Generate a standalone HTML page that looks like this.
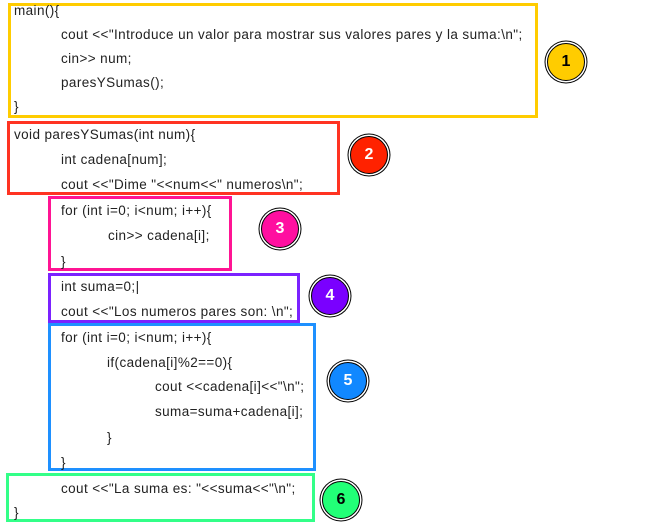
<!DOCTYPE html>
<html><head><meta charset="utf-8"><style>
body{margin:0;width:668px;height:527px;background:#fff;position:relative;overflow:hidden;font-family:"Liberation Sans",sans-serif;font-size:13.5px;color:#222}
.t{position:absolute;white-space:pre;line-height:14px;letter-spacing:0.4px;margin-top:1px}
.b{position:absolute;box-sizing:border-box;border:3px solid}
.c{position:absolute;width:38px;height:38px;border-radius:50%;box-sizing:border-box;border:1.5px solid #000;box-shadow:0 0 0 1.5px #fff,0 0 0 2.5px #000;font-weight:bold;font-size:16px;text-align:center;line-height:35px}
</style></head><body>
<div class="b" style="left:8px;top:3px;width:530px;height:115px;border-color:#ffcc00"></div>
<div class="b" style="left:7px;top:121px;width:333px;height:74px;border-color:#ff3322"></div>
<div class="b" style="left:48px;top:196px;width:184px;height:75px;border-color:#ff1493"></div>
<div class="b" style="left:48px;top:273px;width:252px;height:50px;border-color:#7b22ff"></div>
<div class="b" style="left:48px;top:323px;width:268px;height:148px;border-color:#1e90ff"></div>
<div class="b" style="left:6px;top:473px;width:309px;height:49px;border-color:#33ff88"></div>

<div class="c" style="left:547px;top:43px;background:#ffcc00;color:#000">1</div>
<div class="c" style="left:350px;top:136px;background:#ff2200;color:#fff">2</div>
<div class="c" style="left:261px;top:210px;background:#ff0fa0;color:#fff">3</div>
<div class="c" style="left:311px;top:277px;background:#7a00ff;color:#fff">4</div>
<div class="c" style="left:329px;top:362px;background:#1188ff;color:#fff">5</div>
<div class="c" style="left:322px;top:481px;background:#22ff77;color:#000">6</div>

<div class="t" style="left:14px;top:3px">main(){</div>
<div class="t" style="left:61px;top:27px">cout &lt;&lt;"Introduce un valor para mostrar sus valores pares y la suma:\n";</div>
<div class="t" style="left:61px;top:51px">cin&gt;&gt; num;</div>
<div class="t" style="left:61px;top:75px">paresYSumas();</div>
<div class="t" style="left:14px;top:99px">}</div>
<div class="t" style="left:14px;top:127px">void paresYSumas(int num){</div>
<div class="t" style="left:61px;top:152px">int cadena[num];</div>
<div class="t" style="left:61px;top:177px">cout &lt;&lt;"Dime "&lt;&lt;num&lt;&lt;" numeros\n";</div>
<div class="t" style="left:61px;top:203px">for (int i=0; i&lt;num; i++){</div>
<div class="t" style="left:108px;top:228px">cin&gt;&gt; cadena[i];</div>
<div class="t" style="left:61px;top:254px">}</div>
<div class="t" style="left:61px;top:279px">int suma=0;|</div>
<div class="t" style="left:61px;top:304px">cout &lt;&lt;"Los numeros pares son: \n";</div>
<div class="t" style="left:61px;top:330px">for (int i=0; i&lt;num; i++){</div>
<div class="t" style="left:107px;top:355px">if(cadena[i]%2==0){</div>
<div class="t" style="left:155px;top:379px">cout &lt;&lt;cadena[i]&lt;&lt;"\n";</div>
<div class="t" style="left:155px;top:404px">suma=suma+cadena[i];</div>
<div class="t" style="left:107px;top:430px">}</div>
<div class="t" style="left:61px;top:455px">}</div>
<div class="t" style="left:61px;top:481px">cout &lt;&lt;"La suma es: "&lt;&lt;suma&lt;&lt;"\n";</div>
<div class="t" style="left:14px;top:505px">}</div>
</body></html>
